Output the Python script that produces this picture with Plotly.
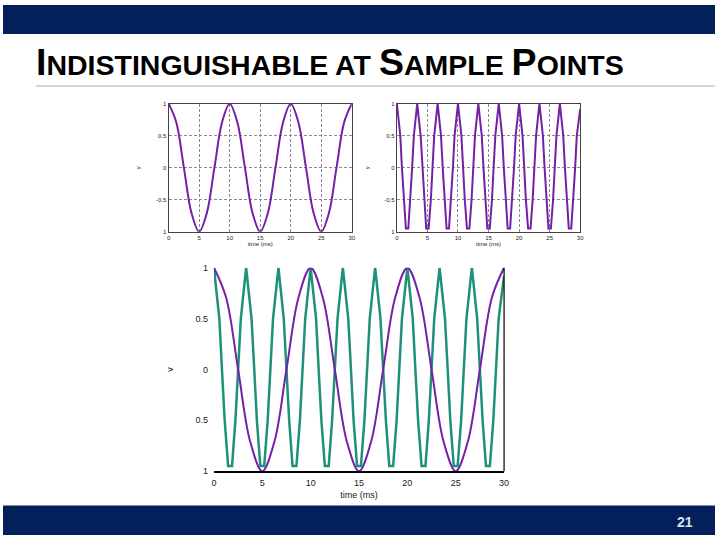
import plotly.graph_objects as go

# ---- data ----
# slow cosine (period 10 ms): points every 1.25 ms
slow_t = [0, 1.25, 2.5, 3.75, 5, 6.25, 7.5, 8.75, 10, 11.25, 12.5, 13.75, 15,
          16.25, 17.5, 18.75, 20, 21.25, 22.5, 23.75, 25, 26.25, 27.5, 28.75, 30]
slow_v = [1, 0.71, 0, -0.71, -1, -0.71, 0, 0.71, 1, 0.71, 0, -0.71, -1,
          -0.71, 0, 0.71, 1, 0.71, 0, -0.71, -1, -0.71, 0, 0.71, 1]

# fast cosine (period ~3.33 ms), coarsely sampled (flat troughs)
fast_t = [0, 0.56, 0.83, 1.11, 1.47, 1.87, 2.22, 2.5, 2.78,
          3.33, 3.89, 4.17, 4.44, 4.8, 5.2, 5.56, 5.83, 6.11,
          6.67, 7.22, 7.5, 7.78, 8.13, 8.53, 8.89, 9.17, 9.44,
          10, 10.56, 10.83, 11.11, 11.47, 11.87, 12.22, 12.5, 12.78,
          13.33, 13.89, 14.17, 14.44, 14.8, 15.2, 15.56, 15.83, 16.11,
          16.67, 17.22, 17.5, 17.78, 18.13, 18.53, 18.89, 19.17, 19.44,
          20, 20.56, 20.83, 21.11, 21.47, 21.87, 22.22, 22.5, 22.78,
          23.33, 23.89, 24.17, 24.44, 24.8, 25.2, 25.56, 25.83, 26.11,
          26.67, 27.22, 27.5, 27.78, 28.13, 28.53, 28.89, 29.17, 29.44,
          30]
fast_v = [1, 0.5, 0, -0.5, -0.95, -0.95, -0.5, 0, 0.5,
          1, 0.5, 0, -0.5, -0.95, -0.95, -0.5, 0, 0.5,
          1, 0.5, 0, -0.5, -0.95, -0.95, -0.5, 0, 0.5,
          1, 0.5, 0, -0.5, -0.95, -0.95, -0.5, 0, 0.5,
          1, 0.5, 0, -0.5, -0.95, -0.95, -0.5, 0, 0.5,
          1, 0.5, 0, -0.5, -0.95, -0.95, -0.5, 0, 0.5,
          1, 0.5, 0, -0.5, -0.95, -0.95, -0.5, 0, 0.5,
          1, 0.5, 0, -0.5, -0.95, -0.95, -0.5, 0, 0.5,
          1, 0.5, 0, -0.5, -0.95, -0.95, -0.5, 0, 0.5,
          0.92]

x_ticks = [0, 5, 10, 15, 20, 25, 30]
x_ticktext = ["0", "5", "10", "15", "20", "25", "30"]
y_ticks = [-1, -0.5, 0, 0.5, 1]
y_ticktext_top = ["1", "-0.5", "0", "0.5", "1"]
y_ticktext_bottom = ["1", "0.5", "0", "0.5", "1"]

title_html = ("<b><span style='font-size:37.5px'>I</span>NDISTINGUISHABLE AT "
              "<span style='font-size:37.5px'>S</span>AMPLE "
              "<span style='font-size:37.5px'>P</span>OINTS</b>")
slide_number = "21"

PURPLE = "#7420A8"
GREEN = "#1E9278"
NAVY = "#03205A"

W, H = 720, 540


def dx(px):
    return px / W


def dy(py):
    return 1 - py / H


fig = go.Figure()

fig.add_trace(go.Scatter(x=slow_t, y=slow_v, mode="lines", line=dict(color=PURPLE, width=2, shape="spline", smoothing=1.0),
                         xaxis="x", yaxis="y", showlegend=False))
fig.add_trace(go.Scatter(x=fast_t, y=fast_v, mode="lines", line=dict(color=PURPLE, width=2),
                         xaxis="x2", yaxis="y2", showlegend=False))
fig.add_trace(go.Scatter(x=fast_t, y=fast_v, mode="lines", line=dict(color=GREEN, width=2.5),
                         xaxis="x3", yaxis="y3", showlegend=False))
fig.add_trace(go.Scatter(x=slow_t, y=slow_v, mode="lines", line=dict(color=PURPLE, width=2, shape="spline", smoothing=1.0),
                         xaxis="x3", yaxis="y3", showlegend=False))

small_font = dict(family="Liberation Sans, Arial, sans-serif", size=6, color="#222")
big_font = dict(family="Liberation Sans, Arial, sans-serif", size=9, color="#222")

top_x = dict(range=[0, 30], tickvals=x_ticks, ticktext=x_ticktext, showgrid=True, gridcolor="#8a8a8a",
             griddash="3px,2px", gridwidth=1, zeroline=False, showline=True, linecolor="#444", mirror=True,
             ticks="", tickfont=small_font, title=dict(text="time (ms)", font=small_font, standoff=1))
top_y = dict(range=[-1, 1], tickvals=y_ticks, showgrid=True, gridcolor="#8a8a8a",
             griddash="3px,2px", gridwidth=1, zeroline=False, showline=True, linecolor="#444", mirror=True,
             ticks="", tickfont=small_font, title=dict(text="y", font=small_font, standoff=14))

fig.update_layout(
    width=W, height=H, margin=dict(l=0, r=0, t=0, b=0),
    paper_bgcolor="white", plot_bgcolor="white",
    xaxis=dict(top_x, domain=[dx(167.5), dx(352.7)], anchor="y"),
    yaxis=dict(top_y, domain=[dy(231), dy(100.5)], anchor="x", ticktext=y_ticktext_top),
    xaxis2=dict(top_x, domain=[dx(398.3), dx(583.7)], anchor="y2"),
    yaxis2=dict(top_y, domain=[dy(231), dy(100.5)], anchor="x2", ticktext=y_ticktext_top),
    xaxis3=dict(range=[0, 30], tickvals=x_ticks, ticktext=x_ticktext, showgrid=False, zeroline=False,
                showline=True, linecolor="black", linewidth=1.5, mirror=False, ticks="",
                tickfont=big_font, title=dict(text="time (ms)", font=big_font, standoff=5),
                ticklabelstandoff=2,
                domain=[dx(213.3), dx(506.7)], anchor="y3"),
    yaxis3=dict(range=[-1, 1], tickvals=y_ticks, ticktext=y_ticktext_bottom, showgrid=False, zeroline=False,
                showline=False, ticks="", tickfont=big_font, ticklabelstandoff=5,
                title=dict(text="v", font=big_font, standoff=20),
                domain=[dy(475), dy(267.7)], anchor="x3"),
)

shapes = [
    dict(type="rect", xref="paper", yref="paper", x0=0, x1=1, y0=dy(29.5), y1=1,
         fillcolor=NAVY, line=dict(width=0), layer="below"),
    dict(type="rect", xref="paper", yref="paper", x0=0, x1=1, y0=0, y1=dy(510),
         fillcolor=NAVY, line=dict(width=0), layer="below"),
    dict(type="line", xref="paper", yref="paper", x0=dx(33), x1=1, y0=dy(82.5), y1=dy(82.5),
         line=dict(color="#C8C8C8", width=1.5)),
    # right border of bottom plot
    dict(type="line", xref="x3 domain", yref="y3 domain", x0=1, x1=1, y0=0, y1=1,
         line=dict(color="black", width=1.2)),
]
fig.update_layout(shapes=shapes)

fig.add_annotation(text=title_html, xref="paper", yref="paper", x=dx(31), y=dy(82),
                   xanchor="left", yanchor="bottom", showarrow=False,
                   font=dict(family="Liberation Sans Narrow, Arial Narrow, sans-serif", size=28.5, color="black"))
fig.add_annotation(text="<b>" + slide_number + "</b>", xref="paper", yref="paper", x=dx(690), y=dy(527),
                   xanchor="center", yanchor="middle", showarrow=False,
                   font=dict(family="Liberation Sans, Arial, sans-serif", size=14, color="#D8E0F4"))

post = ("document.documentElement.style.margin='0';"
        "document.body.style.margin='0';document.body.style.padding='0';"
        "var d=document.querySelector('.plotly-graph-div');"
        "d.style.position='fixed';d.style.left='0px';d.style.top='0px';")
fig.write_html("out.html", post_script=post, config={"displayModeBar": False})
